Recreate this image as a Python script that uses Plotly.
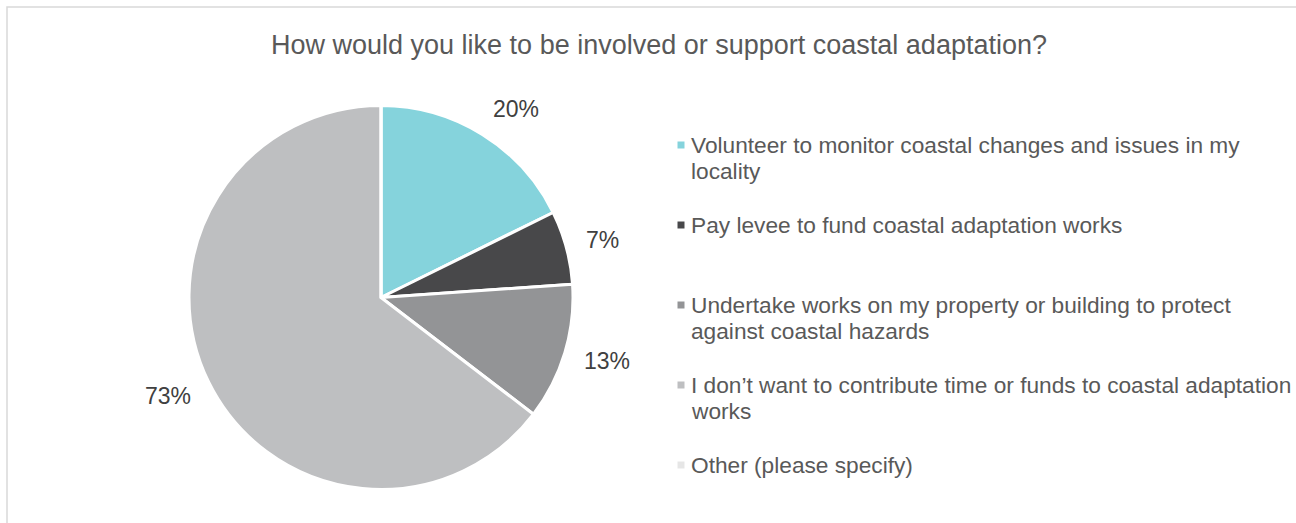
import math
import plotly.graph_objects as go

W, H = 1296, 523

title_text = "How would you like to be involved or support coastal adaptation?"
categories = [
    "Volunteer to monitor coastal changes and issues in my<br>locality",
    "Pay levee to fund coastal adaptation works",
    "Undertake works on my property or building to protect<br>against coastal hazards",
    "I don\u2019t want to contribute time or funds to coastal adaptation<br>works",
    "Other (please specify)",
]
percent_values = [20, 7, 13, 73, 0]
colors = ["#85D3DC", "#48484A", "#939496", "#BEBFC1", "#E6E6E6"]

FONT = "Liberation Sans, Arial, sans-serif"

def px_x(x):
    return x / W

def px_y(y):
    return 1 - y / H

# pie geometry (pixels)
cx, cy, r = 381, 297.5, 192

fig = go.Figure()
fig.add_trace(go.Pie(
    labels=[c.replace("<br>", " ") for c in categories],
    values=percent_values,
    textinfo="none",
    sort=False,
    direction="clockwise",
    rotation=0,
    marker=dict(colors=colors, line=dict(color="#FFFFFF", width=3)),
    domain=dict(x=[px_x(cx - r), px_x(cx + r)], y=[px_y(cy + r), px_y(cy - r)]),
    showlegend=False,
    hovertemplate="%{label}: %{value}%<extra></extra>",
))

shapes = [dict(type="rect", xref="paper", yref="paper",
               x0=px_x(7), x1=1.05, y0=-0.05, y1=px_y(7),
               line=dict(color="#D9D9D9", width=1.5), fillcolor="rgba(0,0,0,0)", layer="below")]
annotations = []

# data labels outside the slices, placed from the slice mid-angles
total = sum(percent_values)
cum = 0
label_r = r + 19
half_h = 11
for v in percent_values:
    if v > 0:
        theta = 2 * math.pi * (cum + v / 2) / total
        dx, dy = math.sin(theta), -math.cos(theta)
        annotations.append(dict(
            xref="paper", yref="paper",
            x=px_x(cx + label_r * dx), y=px_y(cy + label_r * dy + half_h * dy),
            xanchor="left" if dx >= 0 else "right",
            yanchor="middle",
            showarrow=False, text=f"{v}%", borderpad=0,
            font=dict(family=FONT, size=23, color="#404040")))
    cum += v

# legend
leg_y0, leg_step, line_h = 145, 80, 26
sym_x, text_x, sym = 681, 689, 7
for i, (cat, col) in enumerate(zip(categories, colors)):
    yc = leg_y0 + i * leg_step
    shapes.append(dict(type="rect", xref="paper", yref="paper",
                       x0=px_x(sym_x - sym / 2), x1=px_x(sym_x + sym / 2),
                       y0=px_y(yc + sym / 2), y1=px_y(yc - sym / 2),
                       line=dict(width=0), fillcolor=col))
    for k, line in enumerate(cat.split("<br>")):
        annotations.append(dict(xref="paper", yref="paper", x=px_x(text_x), y=px_y(yc + k * line_h),
                                xanchor="left", yanchor="middle", showarrow=False, text=line,
                                font=dict(family=FONT, size=22.7, color="#595959")))

fig.update_layout(
    width=W, height=H,
    margin=dict(l=0, r=0, t=0, b=0),
    paper_bgcolor="#FFFFFF", plot_bgcolor="#FFFFFF",
    title=dict(text=title_text, x=px_x(659), xanchor="center", xref="paper",
               y=px_y(45), yanchor="middle", yref="container",
               font=dict(family=FONT, size=27, color="#595959")),
    shapes=shapes,
    annotations=annotations,
)

fig.write_html("out.html")
